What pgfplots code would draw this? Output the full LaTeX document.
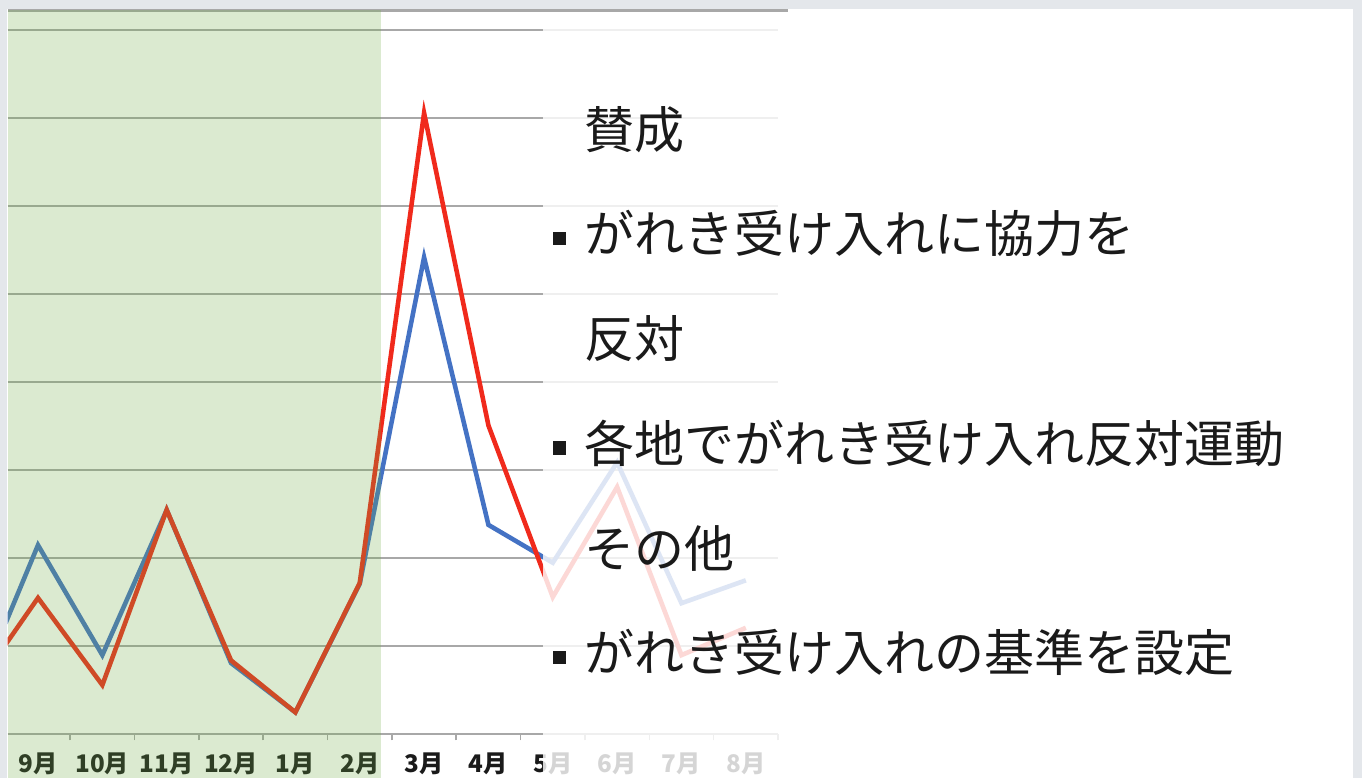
\documentclass[border=0pt]{standalone}
\usepackage{pgfplots}
\usepackage{pgfplotstable}
\pgfplotsset{compat=1.18}
\usepackage{fontspec}
\setmainfont{Noto Sans CJK JP}

\definecolor{serblue}{HTML}{4472C4}
\definecolor{serred}{HTML}{F02A1C}
\definecolor{gridgray}{HTML}{A8A8A8}
\definecolor{periodgreen}{HTML}{70AD47}
\definecolor{bggray}{HTML}{E4E7EB}
\definecolor{txt}{HTML}{1A1A1A}

% k = month index (0 = 9月), a = blue series, b = red series
\pgfplotstableread{
k   a     b
-1  0.39  0.50
0   2.15  1.55
1   0.90  0.56
2   2.55  2.55
3   0.81  0.84
4   0.25  0.25
5   1.71  1.72
6   5.42  7.06
7   2.38  3.51
8   1.95  1.56
9   3.09  2.81
10  1.49  0.90
11  1.75  1.21
}\monthly

\begin{document}
\begin{tikzpicture}
% slide background
\fill[bggray] (0,0) rectangle (136.2mm,77.8mm);
\fill[white] (0.75mm,0) rectangle (135.3mm,76.9mm);

\begin{axis}[
  at={(0.75mm,4.37mm)}, anchor=south west,
  scale only axis,
  width=77.05mm, height=70.4mm,
  xmin=-0.474, xmax=11.5,
  ymin=0, ymax=8,
  axis line style={draw=none},
  xtick={0,...,11},
  xticklabels={9月,10月,11月,12月,1月,2月,3月,4月,5月,6月,7月,8月},
  minor xtick={-0.5,0.5,...,11.5},
  xtick pos=bottom,
  tick align=outside,
  major tick length=0pt,
  minor tick length=0.6mm,
  every tick/.style={gridgray, line width=0.45pt},
  ytick={0,...,8},
  yticklabels={},
  ytick style={draw=none},
  ymajorgrids,
  grid style={gridgray, line width=0.6pt},
  xticklabel style={anchor=center, yshift=-3mm, text=txt,
    font=\fontsize{6.9}{8}\selectfont\bfseries},
]
\addplot[serblue, line width=1.3pt] table[x=k, y=a] {\monthly};
\addplot[serred, line width=1.3pt] table[x=k, y=b] {\monthly};
\end{axis}

\begin{scope}[x=0.1mm, y=-0.1mm, shift={(0mm,77.8mm)}]
  \draw[gridgray, line width=0.6pt] (7.5,10.5) -- (788,10.5);
  % green period and faded later months
  \fill[periodgreen, fill opacity=0.25] (7.5,9.5) rectangle (380.7,778);
  \fill[white, fill opacity=0.82] (543.3,13) rectangle (1353,778);
  % slide text
  \tikzset{lbl/.style={anchor=west, inner sep=0pt, text=txt,
      text height=0.88em, text depth=0.12em,
      font=\fontsize{14.23}{17}\selectfont}}
  \node[lbl] at (584,135) {賛成};
  \node[lbl] at (584,239.5) {がれき受け入れに協力を};
  \node[lbl] at (584,344.3) {反対};
  \node[lbl] at (584,449) {各地でがれき受け入れ反対運動};
  \node[lbl] at (584,553.8) {その他};
  \node[lbl] at (584,658.6) {がれき受け入れの基準を設定};
  \foreach \yy in {238.5,448,657.6}
    \fill[txt] (552.5,\yy-6.8) rectangle (566,\yy+6.8);
\end{scope}

\pgfresetboundingbox
\path[use as bounding box] (0,0) rectangle (136.2mm,77.8mm);
\end{tikzpicture}
\end{document}
